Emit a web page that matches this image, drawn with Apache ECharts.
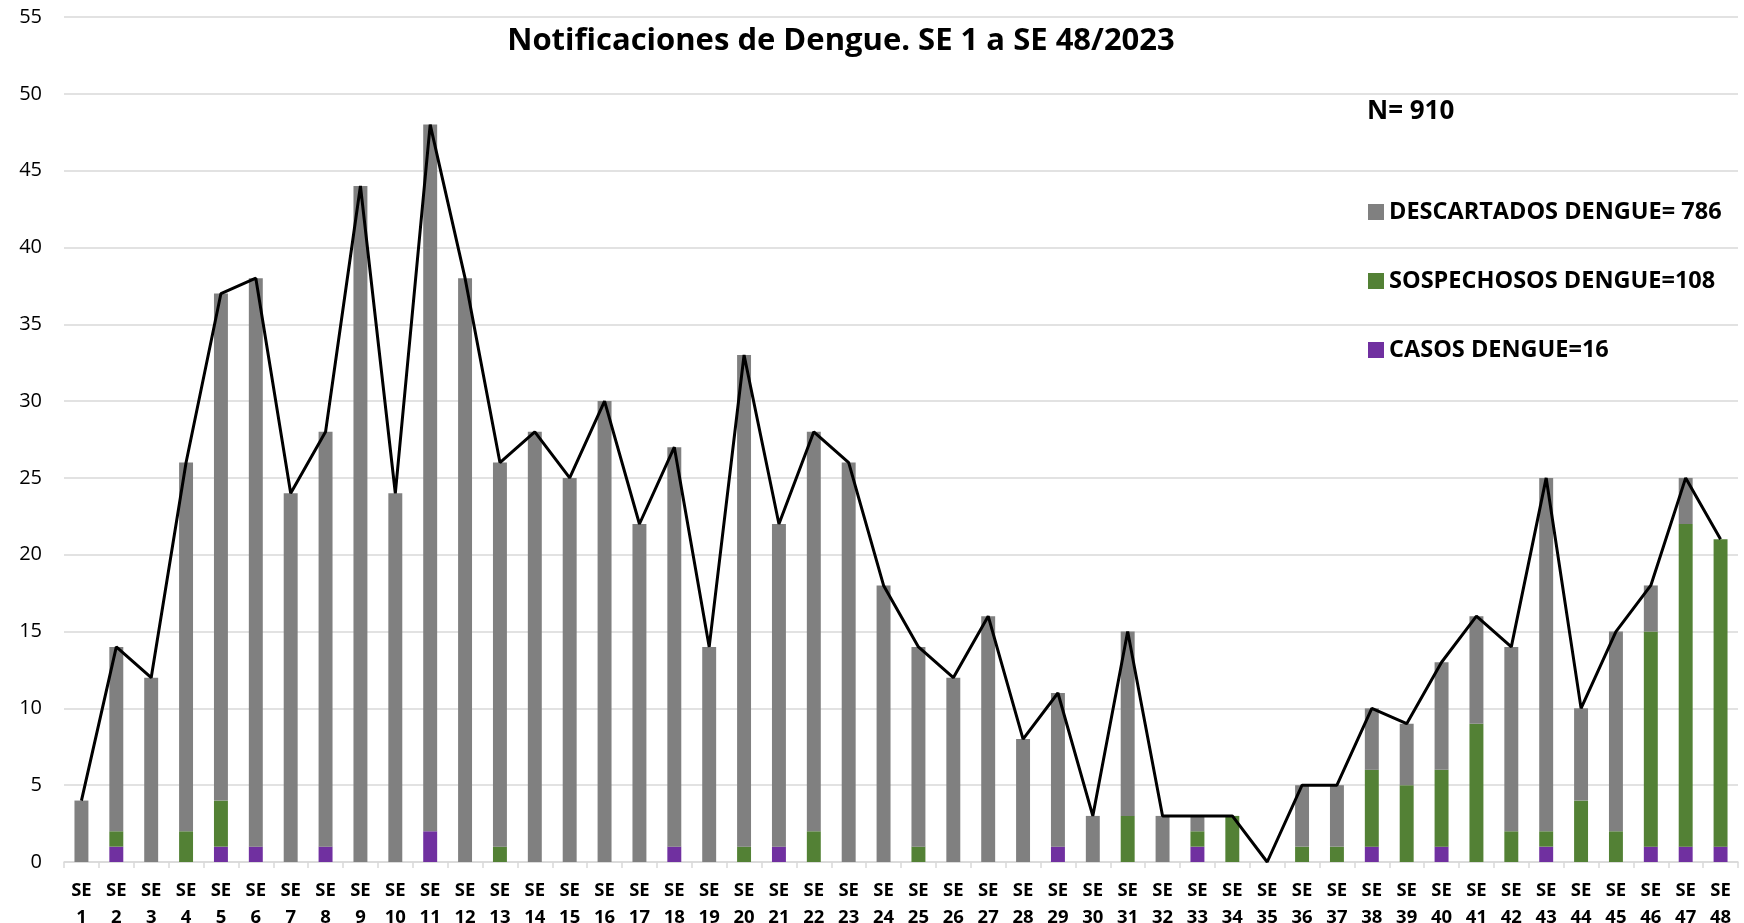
<!DOCTYPE html>
<html>
<head>
<meta charset="utf-8">
<script src="https://cdn.jsdelivr.net/npm/echarts@6/dist/echarts.min.js"></script>
<style>
html,body{margin:0;padding:0;background:#fff;}
#chart{width:1744px;height:923px;}
</style>
</head>
<body>
<div id="chart"></div>
<script>
const weeks = ['SE 1','SE 2','SE 3','SE 4','SE 5','SE 6','SE 7','SE 8','SE 9','SE 10','SE 11','SE 12','SE 13','SE 14','SE 15','SE 16','SE 17','SE 18','SE 19','SE 20','SE 21','SE 22','SE 23','SE 24','SE 25','SE 26','SE 27','SE 28','SE 29','SE 30','SE 31','SE 32','SE 33','SE 34','SE 35','SE 36','SE 37','SE 38','SE 39','SE 40','SE 41','SE 42','SE 43','SE 44','SE 45','SE 46','SE 47','SE 48'];
const casos = [0,1,0,0,1,1,0,1,0,0,2,0,0,0,0,0,0,1,0,0,1,0,0,0,0,0,0,0,1,0,0,0,1,0,0,0,0,1,0,1,0,0,1,0,0,1,1,1];
const sospechosos = [0,1,0,2,3,0,0,0,0,0,0,0,1,0,0,0,0,0,0,1,0,2,0,0,1,0,0,0,0,0,3,0,1,3,0,1,1,5,5,5,9,2,1,4,2,14,21,20];
const descartados = [4,12,12,24,33,37,24,27,44,24,46,38,25,28,25,30,22,26,14,32,21,26,26,18,13,12,16,8,10,3,12,3,1,0,0,4,4,4,4,7,7,12,23,6,13,3,3,0];
const totales = [4,14,12,26,37,38,24,28,44,24,48,38,26,28,25,30,22,27,14,33,22,28,26,18,14,12,16,8,11,3,15,3,3,3,0,5,5,10,9,13,16,14,25,10,15,18,25,21];
const yTicks = {min:0, max:55, interval:5};
const titleText = 'Notificaciones de Dengue. SE 1 a SE 48/2023';
const nText = 'N= 910';
const names = ['DESCARTADOS DENGUE= 786','SOSPECHOSOS DENGUE=108','CASOS DENGUE=16'];

const FONT = 'Open Sans';
const chart = echarts.init(document.getElementById('chart'), null, {renderer:'canvas'});
chart.setOption({
  animation:false,
  backgroundColor:'#ffffff',
  textStyle:{fontFamily:FONT},
  title:[
    {text:titleText, left:836, top:21, textAlign:'center',
     textStyle:{fontFamily:FONT, fontWeight:'bold', fontSize:31, color:'#000'}},
    {text:nText, left:1362, top:94,
     textStyle:{fontFamily:FONT, fontWeight:'bold', fontSize:26, color:'#000'}}
  ],
  legend:{
    orient:'vertical', left:1363, top:195, itemGap:45,
    icon:'rect', itemWidth:16, itemHeight:16, itemTextGap:9,
    data:[names[0],names[1],names[2]],
    textStyle:{fontFamily:FONT, fontWeight:'bold', fontSize:23.5, color:'#000'},
    selectedMode:false
  },
  grid:{left:64, right:6, top:17, bottom:61, containLabel:false, outerBoundsMode:'none'},
  xAxis:{
    type:'category', data:weeks,
    axisLine:{show:true, lineStyle:{color:'#d9d9d9', width:1.5}},
    axisTick:{show:true, alignWithLabel:false, length:6, lineStyle:{color:'#d9d9d9', width:1.5}},
    axisLabel:{interval:0, margin:15, lineHeight:27, fontFamily:FONT, fontWeight:'bold', fontSize:18.5, color:'#000',
      formatter:v=>v.replace(' ','\n')}
  },
  yAxis:{
    type:'value', min:yTicks.min, max:yTicks.max, interval:yTicks.interval,
    axisLine:{show:false}, axisTick:{show:false},
    axisLabel:{margin:22, fontFamily:FONT, fontSize:20, color:'#000'},
    splitLine:{lineStyle:{color:'#d9d9d9', width:1.5}}
  },
  series:[
    {name:names[2], type:'bar', stack:'t', data:casos, barWidth:'40%', itemStyle:{color:'#7030a0'}},
    {name:names[1], type:'bar', stack:'t', data:sospechosos, barWidth:'40%', itemStyle:{color:'#538135'}},
    {name:names[0], type:'bar', stack:'t', data:descartados, barWidth:'40%', itemStyle:{color:'#808080'}},
    {name:'Total', type:'line', data:totales, symbol:'none', z:5,
     lineStyle:{color:'#000', width:3}, itemStyle:{color:'#000'}}
  ]
});
</script>
</body>
</html>
